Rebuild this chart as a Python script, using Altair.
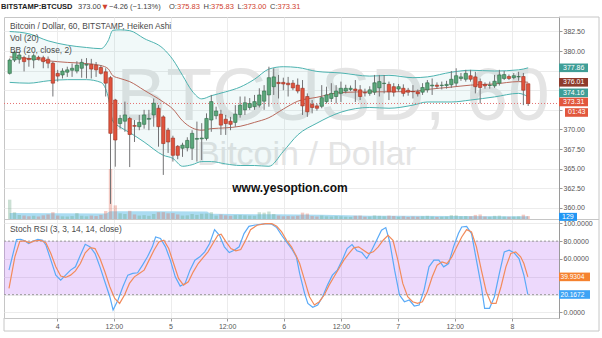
import altair as alt
import pandas as pd

# ---------------- data ----------------
opens = [377.15, 378.85, 378.95, 379.15, 379.05, 378.85, 379.2, 379.15, 378.95, 378.45,
         377.15, 376.95, 377.3, 377.55, 377.45, 377.8, 378.2, 378.3, 378.2, 377.9,
         377.35, 376.6, 373.75, 370.75, 371.05, 371.4, 370.5, 370.35, 370.65, 371.3,
         371.85, 372.7, 371.6, 369.9, 368.9, 367.85, 367.6, 367.65, 367.6, 368.75,
         368.8, 368.85, 371.2, 371.75, 371.95, 371.3, 371.05, 370.9, 371.9, 372.5,
         372.8, 372.9, 373.1, 373.6, 374.4, 375.45, 376.0, 376.0, 375.9, 375.9,
         375.65, 375.25, 374.2, 373.2, 373.0, 372.95, 373.55, 373.95, 374.2, 374.6,
         374.9, 375.1, 375.15, 375.05, 374.7, 374.6, 374.75, 375.3, 375.85, 375.75,
         375.45, 375.15, 375.25, 375.0, 374.85, 374.8, 374.75, 375.05, 375.55, 375.65,
         375.6, 375.6, 375.7, 375.9, 376.5, 376.4, 376.85, 376.7, 376.1, 375.75,
         375.6, 375.55, 375.9, 376.5, 376.75, 376.6, 376.7, 376.75, 375.83]
highs = [379.06, 380.0, 379.9, 379.4, 379.5, 379.7, 379.4, 379.4, 379.3, 378.65,
         377.6, 377.8, 378.0, 378.4, 378.7, 379.0, 379.1, 379.0, 378.6, 378.2,
         377.8, 376.8, 373.9, 371.85, 373.55, 371.6, 371.2, 371.85, 372.5, 372.5,
         373.95, 373.1, 371.8, 370.2, 369.2, 368.0, 368.3, 369.0, 369.9, 371.0,
         370.8, 372.05, 374.4, 372.9, 372.5, 371.85, 371.6, 373.1, 374.2, 374.2,
         374.0, 374.4, 375.25, 375.65, 378.0, 377.8, 376.95, 376.6, 376.7, 376.3,
         376.5, 376.3, 374.6, 373.75, 373.3, 375.65, 375.45, 375.9, 375.65, 376.1,
         375.7, 375.6, 376.3, 375.65, 375.2, 375.5, 376.95, 376.95, 376.95, 376.1,
         375.9, 375.8, 375.75, 375.3, 375.65, 375.1, 375.9, 376.3, 376.5, 376.0,
         376.1, 376.2, 377.45, 377.8, 377.2, 377.6, 377.6, 377.35, 376.5, 376.0,
         376.1, 376.95, 377.6, 377.45, 377.0, 377.2, 377.35, 377.2, 375.83]
lows = [377.0, 378.6, 378.4, 377.4, 378.0, 377.8, 378.8, 377.8, 377.8, 374.2,
        376.1, 376.5, 376.7, 376.7, 377.15, 376.6, 376.5, 376.5, 376.7, 377.0,
        374.2, 360.5, 365.25, 370.1, 369.7, 365.2, 368.4, 369.9, 370.1, 369.9,
        370.35, 367.8, 364.2, 367.0, 365.9, 366.2, 366.5, 367.2, 366.1, 365.9,
        366.1, 368.6, 369.7, 371.3, 369.3, 369.3, 369.9, 370.35, 371.5, 371.85,
        372.5, 372.5, 372.8, 372.5, 372.9, 374.4, 373.95, 375.0, 374.2, 375.0,
        374.6, 371.85, 371.6, 372.05, 372.4, 372.7, 373.3, 373.5, 373.3, 373.5,
        374.6, 374.9, 373.5, 373.75, 374.2, 374.3, 374.4, 374.2, 374.6, 373.75,
        374.2, 374.8, 374.2, 374.3, 373.95, 374.2, 374.4, 374.7, 374.4, 375.2,
        375.1, 375.2, 375.3, 375.5, 376.2, 376.1, 376.1, 374.6, 373.3, 375.2,
        375.2, 375.3, 375.6, 376.3, 376.3, 376.4, 376.2, 373.1, 373.0]
closes = [378.85, 379.83, 379.5, 378.65, 378.9, 379.4, 379.0, 378.65, 378.45, 375.9,
          376.8, 377.45, 377.6, 377.8, 378.2, 378.55, 378.3, 377.7, 377.6, 377.15,
          375.9, 369.5, 368.65, 371.4, 371.85, 369.35, 370.4, 370.9, 371.85, 371.4,
          373.35, 370.35, 368.2, 368.4, 366.7, 366.7, 368.0, 368.6, 369.5, 368.85,
          368.9, 371.4, 373.55, 372.35, 370.55, 370.75, 370.65, 371.95, 373.1, 373.4,
          373.3, 373.55, 374.4, 374.9, 376.6, 376.7, 375.85, 375.8, 375.7, 375.3,
          374.9, 373.0, 372.25, 372.8, 372.7, 374.05, 374.4, 374.6, 374.9, 375.25,
          375.25, 375.25, 374.95, 374.2, 374.65, 375.05, 375.95, 376.1, 375.9, 374.8,
          374.75, 375.45, 374.6, 374.75, 374.8, 374.55, 375.35, 375.95, 375.65, 375.5,
          375.65, 375.75, 376.4, 376.85, 376.7, 377.15, 376.4, 375.45, 375.35, 375.55,
          375.65, 376.15, 376.95, 377.0, 376.5, 376.85, 376.75, 375.0, 373.31]
volumes = [850, 300, 180, 150, 120, 140, 110, 160, 200, 300,
           150, 120, 110, 130, 260, 140, 120, 150, 130, 180,
           350, 2200, 600, 250, 220, 360, 200, 150, 170, 140,
           220, 300, 300, 250, 260, 200, 150, 160, 220, 180,
           230, 240, 300, 150, 200, 160, 140, 170, 180, 160,
           150, 140, 300, 280, 330, 220, 150, 120, 130, 120,
           140, 280, 240, 130, 110, 150, 120, 110, 130, 120,
           100, 90, 140, 150, 100, 110, 160, 140, 120, 150,
           130, 100, 120, 90, 110, 100, 120, 140, 110, 90,
           100, 110, 170, 160, 120, 130, 120, 180, 200, 110,
           100, 140, 150, 110, 100, 110, 120, 190, 129]

bb_x = [0, 4, 8, 12, 16, 19, 20.5, 21.5, 23, 25, 28, 32, 34, 36, 38, 40, 42, 45, 48, 51,
        54, 57, 60, 64, 69, 75, 79, 84, 87, 92, 96, 101, 106, 108]
bb_upper = [382.49, 382.2, 381.3, 380.75, 380.45, 380.3, 381.3, 382.65, 382.7, 382.6,
            381.6, 380.3, 378.9, 376.9, 374.9, 373.9, 374.3, 374.8, 375.4, 376.4,
            377.7, 378.0, 377.9, 377.4, 377.2, 376.8, 376.9, 376.6, 376.7, 377.3,
            377.55, 377.45, 377.6, 377.86]
bb_mid = [379.25, 379.05, 378.75, 378.55, 378.4, 378.15, 377.75, 376.85, 376.5, 376.1,
          375.0, 373.5, 372.6, 371.1, 370.2, 369.9, 370.1, 370.2, 370.4, 370.9,
          371.5, 372.6, 373.6, 374.1, 374.7, 374.8, 374.8, 374.85, 375.1, 375.4,
          375.65, 375.8, 376.1, 376.01]
bb_lower = [376.0, 375.9, 376.2, 376.35, 376.35, 376.0, 374.2, 371.05, 370.3, 369.6,
            368.4, 366.7, 366.3, 365.3, 365.5, 365.9, 365.9, 365.6, 365.4, 365.4,
            365.3, 367.2, 369.3, 370.8, 372.2, 372.8, 372.7, 373.1, 373.5, 373.5,
            373.75, 374.15, 374.6, 374.16]

volma_x = [0, 20, 21, 41, 42, 60, 80, 108]
volma_v = [260, 240, 340, 330, 230, 200, 140, 125]

k_x = [-0.14, 1.43, 2.31, 3.13, 3.95, 4.83, 5.86, 6.88, 7.56, 8.58,
       9.61, 10.63, 11.65, 12.68, 13.7, 14.72, 15.74, 16.77, 17.79, 18.81,
       19.83, 20.86, 21.54, 22.56, 23.58, 24.61, 25.63, 26.65, 27.67, 28.7,
       29.72, 30.4, 31.42, 32.45, 33.47, 34.49, 35.52, 36.54, 37.56, 38.58,
       39.61, 40.63, 41.65, 42.68, 43.7, 44.72, 45.74, 46.77, 47.79, 48.81,
       49.83, 50.86, 52.22, 53.58, 54.6, 55.63, 56.65, 57.67, 58.7, 59.72,
       60.4, 61.43, 62.11, 63.13, 64.16, 65.18, 66.2, 67.22, 68.25, 69.27,
       70.29, 71.31, 72.34, 73.36, 74.38, 75.41, 76.43, 77.45, 78.34, 79.16,
       80.18, 81.2, 82.22, 83.25, 84.27, 85.29, 86.31, 87.34, 88.36, 89.38,
       90.4, 91.43, 92.45, 93.47, 94.16, 95.18, 96.2, 97.22, 98.25, 98.93,
       99.95, 100.97, 102.0, 103.02, 104.04, 105.06, 106.09, 107.11, 107.93]
k_v = [47.5, 81.7, 82.1, 80.3, 77.3, 79.9, 82.1, 81.0, 75.4, 58.7,
       41.9, 36.3, 41.9, 47.5, 51.2, 64.2, 76.5, 73.6, 66.1, 51.2,
       34.5, 17.7, 2.8, 14.0, 28.9, 41.9, 43.8, 44.5, 53.1, 62.4,
       73.6, 84.7, 82.9, 73.6, 58.7, 40.0, 29.6, 32.6, 47.5, 58.7,
       62.4, 68.0, 77.3, 92.9, 86.6, 73.6, 67.2, 69.8, 73.6, 88.5,
       96.6, 97.8, 98.9, 99.6, 98.9, 95.2, 86.6, 79.1, 71.7, 62.4,
       43.8, 21.4, 10.2, 5.8, 8.4, 17.7, 30.7, 41.9, 47.5, 58.7,
       71.7, 76.2, 69.1, 67.2, 60.5, 69.8, 81.0, 92.2, 95.2, 79.1,
       47.5, 19.6, 12.1, 14.0, 7.3, 8.4, 25.1, 51.2, 58.7, 58.7,
       51.2, 54.9, 73.6, 88.5, 95.9, 96.6, 88.5, 58.7, 28.9, 4.7,
       4.7, 17.7, 43.8, 68.0, 69.8, 66.9, 60.5, 41.9, 20.17]
d_x = [-0.14, 1.08, 2.11, 3.13, 4.15, 5.18, 6.54, 7.56, 8.58, 9.61,
       10.63, 11.65, 12.68, 13.7, 14.72, 15.74, 16.77, 17.79, 18.81, 19.83,
       20.86, 21.88, 22.9, 23.92, 24.95, 25.97, 26.99, 28.01, 29.04, 30.06,
       31.08, 32.11, 33.13, 34.15, 35.18, 36.2, 37.22, 38.24, 39.27, 40.29,
       41.31, 42.33, 43.36, 44.04, 45.06, 46.08, 47.11, 48.13, 49.15, 50.17,
       51.54, 53.24, 54.6, 55.63, 56.65, 57.67, 58.7, 59.72, 60.4, 61.43,
       62.45, 63.47, 64.5, 65.52, 66.54, 67.56, 68.59, 69.61, 70.63, 71.65,
       72.68, 73.7, 74.72, 75.75, 76.77, 77.79, 78.81, 79.84, 80.86, 81.88,
       82.9, 83.93, 84.95, 85.97, 87.0, 88.02, 89.04, 90.06, 91.09, 92.11,
       93.13, 94.16, 95.18, 96.2, 97.22, 98.25, 99.27, 100.29, 101.31, 102.34,
       103.36, 104.38, 105.4, 106.43, 107.11, 107.93]
d_v = [27.0, 62.4, 79.9, 80.3, 78.0, 80.3, 81.0, 78.0, 66.1, 51.2,
       40.8, 39.3, 41.9, 46.7, 54.9, 66.9, 72.8, 71.7, 60.5, 45.6,
       28.9, 15.8, 10.2, 19.6, 32.6, 40.0, 43.8, 47.5, 58.7, 69.8,
       79.1, 81.0, 71.7, 54.9, 38.2, 30.7, 34.5, 45.6, 54.9, 61.6,
       68.0, 77.3, 86.6, 87.7, 79.1, 71.7, 69.1, 70.6, 81.0, 92.9,
       97.8, 99.6, 99.6, 96.6, 90.3, 81.0, 73.6, 63.1, 54.9, 36.3,
       17.7, 8.4, 12.1, 19.6, 30.7, 40.0, 49.3, 58.7, 66.1, 72.4,
       73.6, 69.8, 66.1, 68.0, 73.6, 81.0, 86.6, 81.0, 58.7, 32.6,
       17.7, 12.1, 10.2, 12.1, 23.3, 40.0, 53.1, 56.8, 54.9, 62.4,
       73.6, 84.7, 92.9, 90.3, 73.6, 47.5, 23.3, 10.2, 10.2, 28.9,
       51.2, 66.1, 68.0, 62.4, 54.9, 39.93]

tick_pos = [9.9, 21.7, 33.5, 45.3, 57.1, 69.0, 80.8, 92.7, 104.6]
tick_labels = ["4", "12:00", "5", "12:00", "6", "12:00", "7", "12:00", "8"]
price_ticks = [360.0, 362.5, 365.0, 367.5, 370.0, 372.5, 375.0, 377.5, 380.0, 382.5]
price_ticks_covered = [372.5, 375.0, 377.5]
stoch_ticks = [0, 20, 40, 60, 80, 100]
stoch_ticks_covered = [20, 40]

last_close = 373.31
bb_last = [377.86, 376.01, 374.16]
stoch_last = [39.9304, 20.1672]
last_volume = 129

# ---------------- layout / style ----------------
W, H = 555, 301
FONT = "Liberation Sans"
GREEN, GREEN_D = "#5aa77a", "#2f6a46"
RED, RED_D = "#e0533d", "#9c3223"
TEAL = "#4db3b0"
MID = "#b8695c"
GRID = "#ececec"
FRAME = "#c6c6c6"

xscale = alt.Scale(domain=[-0.14, 113.38], nice=False, zero=False)
price_scale = alt.Scale(domain=[345.95, 384.34], nice=False, zero=False)
vol_scale = alt.Scale(domain=[-4356, 8888], nice=False, zero=False)
stoch_scale = alt.Scale(domain=[-6.17, 331.28], nice=False, zero=False)

pos_str = ",".join(str(p) for p in tick_pos)
lab_str = ",".join("'" + s + "'" for s in tick_labels)
xaxis = alt.Axis(values=tick_pos, labelExpr=f"[{lab_str}][indexof([{pos_str}], datum.value)]",
                 grid=True, gridColor=GRID, tickSize=3, tickColor="#9a9a9a",
                 domain=True, domainColor=FRAME, labelFontSize=7, labelColor="#555",
                 labelPadding=1, title=None, labelFlush=False, labelOverlap=False, labelFont=FONT)
X = alt.X("x:Q", scale=xscale, axis=xaxis)

pc = ",".join(str(v) for v in price_ticks_covered)
price_axis = alt.Axis(orient="right", values=price_ticks,
                      labelExpr=f"indexof([{pc}], datum.value) >= 0 ? '' : format(datum.value, '.2f')",
                      grid=True, gridColor=GRID,
                      tickSize=3, tickColor="#9a9a9a", domain=True, domainColor="#9a9a9a",
                      labelFontSize=7, labelColor="#555", labelPadding=1, title=None,
                      labelOverlap=False, labelFlush=False, labelFont=FONT)
sc = ",".join(str(v) for v in stoch_ticks_covered)
stoch_axis = alt.Axis(orient="right", values=stoch_ticks,
                      labelExpr=f"indexof([{sc}], datum.value) >= 0 ? '' : format(datum.value, '.4f')",
                      grid=True, gridColor=GRID,
                      tickSize=3, tickColor="#9a9a9a", domain=False,
                      labelFontSize=7, labelColor="#555", labelPadding=1, title=None,
                      labelOverlap=False, labelFlush=False, labelFont=FONT)

cdf = pd.DataFrame({"x": list(range(len(opens))), "open": opens, "high": highs,
                    "low": lows, "close": closes, "vol": volumes})
cdf["dir"] = ["up" if c >= o else "down" for o, c in zip(opens, closes)]
cdf["vdir"] = cdf["dir"]
bbdf = pd.DataFrame({"x": bb_x, "upper": bb_upper, "mid": bb_mid, "lower": bb_lower})
vmadf = pd.DataFrame({"x": volma_x, "v": volma_v})
kdf = pd.DataFrame({"x": k_x, "v": k_v})
ddf = pd.DataFrame({"x": d_x, "v": d_v})


def txt(s, x, y, size=8, color="#4a4a4a", weight="normal", align="left",
        baseline="middle", font=FONT):
    return alt.Chart(pd.DataFrame({"t": [s]})).mark_text(
        align=align, baseline=baseline, fontSize=size, color=color,
        fontWeight=weight, font=font).encode(x=alt.value(x), y=alt.value(y), text="t:N")


def hrule(y, x1, x2, color=FRAME, width=1):
    return alt.Chart(pd.DataFrame({"a": [0]})).mark_rule(color=color, strokeWidth=width).encode(
        x=alt.value(x1), x2=alt.value(x2), y=alt.value(y))


def vrule(x, y1, y2, color=FRAME, width=1):
    return alt.Chart(pd.DataFrame({"a": [0]})).mark_rule(color=color, strokeWidth=width).encode(
        x=alt.value(x), y=alt.value(y1), y2=alt.value(y2))


def box(val, label, color, scale, x1, x2, yoff, tx, hgt=8.6, fs=7):
    df = pd.DataFrame({"v": [val], "t": [label]})
    b = alt.Chart(df).mark_rule(color=color, strokeWidth=hgt, yOffset=yoff).encode(
        x=alt.value(x1), x2=alt.value(x2), y=alt.Y("v:Q", scale=scale, axis=None))
    t = alt.Chart(df).mark_text(align="left", baseline="middle", color="white", fontSize=fs,
                                font=FONT, yOffset=yoff).encode(
        x=alt.value(tx), y=alt.Y("v:Q", scale=scale, axis=None), text="t:N")
    return [b, t]


layers = []

# stoch band 20-80
layers.append(alt.Chart(pd.DataFrame({"lo": [20], "hi": [80]})).mark_rect(
    color="#9b2cf0", opacity=0.18).encode(
    x=alt.value(0), x2=alt.value(W),
    y=alt.Y("lo:Q", scale=stoch_scale, axis=stoch_axis), y2="hi:Q"))

# watermark
layers.append(txt("BTCUSD, 60", 329, 103, size=75, color="#e4e4e4", align="center",
                  baseline="alphabetic"))
layers.append(txt("Bitcoin / Dollar", 302.5, 148, size=34, color="#e4e4e4", align="center",
                  baseline="alphabetic"))

# Bollinger fill
layers.append(alt.Chart(bbdf).mark_area(color=TEAL, opacity=0.08, interpolate="monotone").encode(
    x=X, y=alt.Y("upper:Q", scale=price_scale, axis=None), y2="lower:Q"))

# volume MA + bars
layers.append(alt.Chart(vmadf).mark_area(color="#8fd0ee", opacity=0.75, interpolate="monotone").encode(
    x=X, y=alt.Y("v:Q", scale=vol_scale, axis=None), y2=alt.datum(0)))
layers.append(alt.Chart(cdf).mark_bar(width=3.4, opacity=0.35).encode(
    x=X, y=alt.Y("vol:Q", scale=vol_scale, axis=None), y2=alt.datum(0),
    color=alt.Color("vdir:N", scale=alt.Scale(domain=["up", "down"], range=["#6ba583", "#e06a55"]),
                    legend=None)))

# Bollinger lines
for col, colr in [("upper", TEAL), ("lower", TEAL), ("mid", MID)]:
    layers.append(alt.Chart(bbdf).mark_line(color=colr, strokeWidth=1, interpolate="monotone").encode(
        x=X, y=alt.Y(f"{col}:Q", scale=price_scale, axis=None)))

# last price dotted line
layers.append(alt.Chart(pd.DataFrame({"p": [last_close]})).mark_rule(
    color="#e57373", strokeDash=[1, 2], strokeWidth=1).encode(
    x=alt.value(0), x2=alt.value(W), y=alt.Y("p:Q", scale=price_scale, axis=None)))

# candles
layers.append(alt.Chart(cdf).mark_rule(color="#737375", strokeWidth=1).encode(
    x=X, y=alt.Y("low:Q", scale=price_scale, axis=price_axis), y2="high:Q"))
layers.append(alt.Chart(cdf).mark_bar(width=3.4, strokeWidth=0.6).encode(
    x=X, y=alt.Y("open:Q", scale=price_scale, axis=None), y2="close:Q",
    color=alt.Color("dir:N", scale=alt.Scale(domain=["up", "down"], range=[GREEN, RED]), legend=None),
    stroke=alt.Stroke("dir:N", scale=alt.Scale(domain=["up", "down"], range=[GREEN_D, RED_D]),
                      legend=None)))

# stoch 20/80 dashed levels
layers.append(alt.Chart(pd.DataFrame({"lvl": [20, 80]})).mark_rule(
    color="#9a9a9a", strokeDash=[2, 2], strokeWidth=1).encode(
    x=alt.value(0), x2=alt.value(W), y=alt.Y("lvl:Q", scale=stoch_scale, axis=None)))

# stoch lines
layers.append(alt.Chart(kdf).mark_line(color="#5aaaf7", strokeWidth=1.2).encode(
    x=X, y=alt.Y("v:Q", scale=stoch_scale, axis=None)))
layers.append(alt.Chart(ddf).mark_line(color="#f28b5b", strokeWidth=1.2).encode(
    x=X, y=alt.Y("v:Q", scale=stoch_scale, axis=None)))

# frames / separators
layers.append(hrule(-16.5, 0, 10, color="white"))
layers.append(hrule(202.5, 0, 595))
layers.append(hrule(0, W, 595))
layers.append(vrule(595, 0, 314))
layers.append(vrule(0, 301, 314))
layers.append(hrule(314, 0, 595))

# header
hy = -10
HS = 7.5
layers.append(txt("BITSTAMP:BTCUSD", -3, hy, size=HS, color="#222", weight="bold"))
layers.append(txt("373.00", 74, hy, size=HS, color="#444"))
layers.append(txt("▼", 98.5, hy, size=6.5, color="#d0412e", font="DejaVu Sans"))
layers.append(txt("−4.26 (−1.13%)", 105, hy, size=HS, color="#444"))
for s, xx, c in [("O:", 165, "#444"), ("375.83", 173, "#d0412e"), ("H:", 199.5, "#444"),
                 ("375.83", 207, "#d0412e"), ("L:", 233.5, "#444"), ("373.00", 239.5, "#d0412e"),
                 ("C:", 266, "#444"), ("373.31", 273.5, "#d0412e")]:
    layers.append(txt(s, xx, hy, size=HS, color=c))

# legends
layers.append(txt("Bitcoin / Dollar, 60, BITSTAMP, Heiken Ashi", 6, 9, size=8.4))
layers.append(txt("Vol (20)", 6, 21, size=8.4))
layers.append(txt("BB (20, close, 2)", 6, 32.5, size=8.4))
layers.append(txt("Stoch RSI (3, 3, 14, 14, close)", 6, 212, size=8.4))
layers.append(txt("www.yesoption.com", 286, 175, size=12, color="#111", weight="bold",
                  align="center", baseline="alphabetic"))

# right-side value boxes
layers += box(bb_last[0], "377.86", "#3f9e97", price_scale, 555, 584, 0, 559)
layers += box(bb_last[1], "376.01", "#8e3b2c", price_scale, 555, 584, 0, 559)
layers += box(bb_last[2], "374.16", "#3f9e97", price_scale, 555, 584, -4, 559)
layers += box(last_close, "373.31", "#e2573d", price_scale, 555, 584, -1.5, 559)
layers += box(last_close, "01:43", "#e2573d", price_scale, 561, 584, 9, 564)
layers += box(last_volume, "129", "#2196f3", vol_scale, 555, 573, 0.8, 558, hgt=8)
layers += box(stoch_last[0], "39.9304", "#f5822f", stoch_scale, 555, 586, 0, 556.5, fs=6.6)
layers += box(stoch_last[1], "20.1672", "#3ea3f5", stoch_scale, 555, 586, 0, 556.5, fs=6.6)

chart = alt.layer(*layers).resolve_scale(
    y="independent", color="independent", stroke="independent"
).properties(
    width=W, height=H, background="white",
    padding={"left": 1, "top": 0, "right": 0, "bottom": 0}
).configure_view(stroke=FRAME)

chart.save("out.html", embed_options={"renderer": "svg", "actions": False})
